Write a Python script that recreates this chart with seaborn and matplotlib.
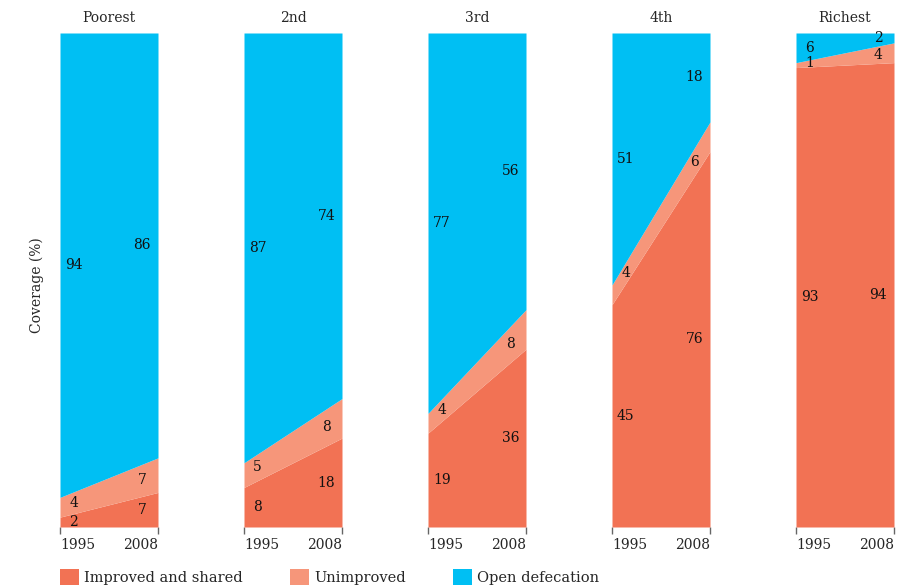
import numpy as np
import pandas as pd
import matplotlib
matplotlib.use("Agg")
import matplotlib.pyplot as plt
import seaborn as sns
from matplotlib.patches import Patch

# ---- data ----
groups = ["Poorest", "2nd", "3rd", "4th", "Richest"]
years = [1995, 2008]
year_labels = ["1995", "2008"]
categories = ["Improved and shared", "Unimproved", "Open defecation"]
improved = [[2, 7], [8, 18], [19, 36], [45, 76], [93, 94]]
unimproved = [[4, 7], [5, 8], [4, 8], [4, 6], [1, 4]]
open_def = [[94, 86], [87, 74], [77, 56], [51, 18], [6, 2]]

colors = ["#F27254", "#F6967A", "#00BFF3"]

sns.set_theme(style="white")
plt.rcParams["font.family"] = ["DejaVu Serif", "DejaVu Sans"]

fig = plt.figure(figsize=(9.15, 5.87), dpi=100)
W, H = 915, 587
left0, pw, step = 60, 98, 184
top, bottom = 33, 527
label_frac = [0.14, 0.84]

for i, g in enumerate(groups):
    ax = fig.add_axes([(left0 + i * step) / W, 1 - bottom / H, pw / W, (bottom - top) / H])
    series = [improved[i], unimproved[i], open_def[i]]
    ax.stackplot(years, *series, colors=colors, linewidth=0)
    ax.set_xlim(years[0], years[1])
    ax.set_ylim(0, 100)
    ax.set_yticks([])
    ax.set_xticks(years)
    ax.set_xticklabels(year_labels, fontsize=10)
    lbls = ax.get_xticklabels()
    lbls[0].set_ha("left")
    lbls[1].set_ha("right")
    ax.tick_params(axis="x", bottom=True, length=5, width=1, color="#666666", pad=3)
    sns.despine(ax=ax, left=True, bottom=True)
    ax.set_title(g, fontsize=10, pad=8)
    span = years[1] - years[0]
    for j in range(2):
        f = label_frac[j]
        xpos = years[0] + f * span
        # improved & open defecation: centre of band at the year edge
        # unimproved (thin band): centre of band interpolated at the label's x
        base_edge = 0.0
        base_int = 0.0
        for k, s in enumerate(series):
            v_int = s[0] + f * (s[1] - s[0])
            if k == 1:
                ypos = base_int + v_int / 2
            else:
                ypos = base_edge + s[j] / 2
            ax.text(xpos, ypos, str(s[j]), ha="center", va="center",
                    fontsize=10, color="#111111")
            base_edge += s[j]
            base_int += v_int

fig.text(37 / W, 1 - 285 / H, "Coverage (%)", rotation=90, ha="center", va="center", fontsize=10)

handles = [Patch(facecolor=c, edgecolor="none") for c in colors]
fig.legend(handles, categories, loc="lower left", bbox_to_anchor=(60 / W, 0.004), ncol=3,
           frameon=False, fontsize=10.5, handlelength=1.3, handleheight=1.3,
           handletextpad=0.35, columnspacing=3.25, borderaxespad=0, borderpad=0)

fig.savefig("out.png", dpi=100)
